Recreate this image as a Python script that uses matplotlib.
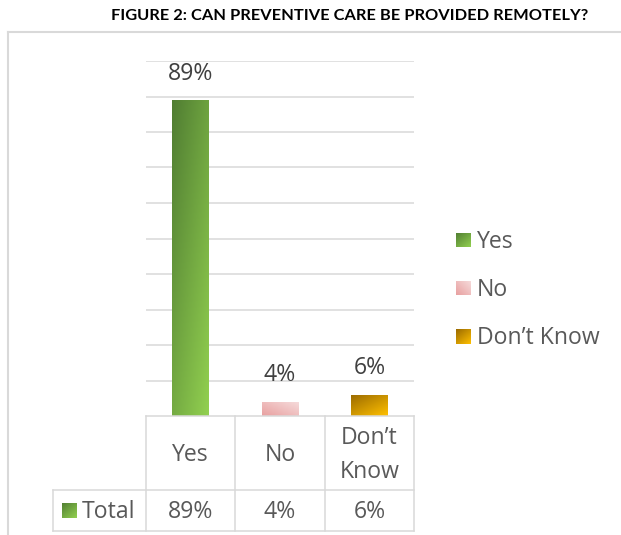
import numpy as np
import matplotlib
matplotlib.use("Agg")
import matplotlib.pyplot as plt
import matplotlib.transforms as mtransforms
from matplotlib.colors import LinearSegmentedColormap
from matplotlib.lines import Line2D

# survey answers
categories = ["Yes", "No", "Don\u2019t\nKnow"]
legend_names = ["Yes", "No", "Don\u2019t Know"]
shares = [0.89, 0.04, 0.06]
value_labels = ["89%", "4%", "6%"]
row_label = "Total"
title = "FIGURE 2: CAN PREVENTIVE CARE BE PROVIDED REMOTELY?"

# gradient end points (dark corner, light corner)
grads = [("#507D32", "#92D050"), ("#E8A0A0", "#F6DCDC"), ("#9A6A00", "#FFC000")]

W, H = 621, 535
GRID = "#D9D9D9"
TXT = "#595959"
FONT = "Open Sans"
FS = 16.6

plt.rcParams["font.family"] = [FONT, "DejaVu Sans"]

fig = plt.figure(figsize=(W / 100, H / 100), dpi=100)
fig.patch.set_facecolor("white")


def fx(x):
    return x / W


def fy(y):
    return 1 - y / H


ax = fig.add_axes([fx(146), fy(416), fx(414) - fx(146), fy(61) - fy(416)])
ax.set_xlim(-0.5, 2.5)
ax.set_ylim(0, 1.0)
ax.set_yticks(np.arange(0.1, 1.01, 0.1))
ax.yaxis.grid(True, color=GRID, lw=1.1)
ax.set_axisbelow(True)
for s in ax.spines.values():
    s.set_visible(False)
ax.tick_params(left=False, bottom=False, labelleft=False, labelbottom=False)


def gradient(kind, n=64):
    u = np.linspace(0, 1, n)
    uu, vv = np.meshgrid(u, u)  # vv: 0 at top row (imshow origin upper)
    if kind == 1:
        # pink: dark at bottom-left, light at top-right
        return 0.5 * uu + 0.5 * (1 - vv)
    return 0.45 * uu + 0.55 * vv


bars = ax.bar(range(len(shares)), shares, width=0.41, color="none", edgecolor="none")
for i, (b, v) in enumerate(zip(bars, shares)):
    cmap = LinearSegmentedColormap.from_list(f"g{i}", grads[i])
    x0 = b.get_x()
    im = ax.imshow(gradient(i), cmap=cmap, aspect="auto", origin="upper",
                   extent=[x0, x0 + b.get_width(), 0, v], zorder=2)
    im.set_clip_path(b)
    ax.annotate(value_labels[i], (b.get_x() + b.get_width() / 2, v),
                xytext=(0, 19), textcoords="offset points",
                ha="center", va="center", fontsize=FS, color="#404040")
ax.set_xlim(-0.5, 2.5)
ax.set_ylim(0, 1.0)

# data table under the plot area
bt = mtransforms.blended_transform_factory(ax.transData, fig.transFigure)
ft = fig.transFigure
y_top, y_mid, y_bot = fy(416), fy(490), fy(531)


def hline(x0, x1, y, tr):
    fig.add_artist(Line2D([x0, x1], [y, y], color=GRID, lw=1.1, transform=tr))


def vline(x, y0, y1, tr):
    fig.add_artist(Line2D([x, x], [y0, y1], color=GRID, lw=1.1, transform=tr))


hline(-0.5, 2.5, y_top, bt)
hline(fx(53), fx(414), y_mid, ft)
hline(fx(53), fx(414), y_bot, ft)
vline(fx(53), y_mid, y_bot, ft)
for xb in [-0.5, 0.5, 1.5, 2.5]:
    vline(xb, y_top, y_bot, bt)

for i, cat in enumerate(categories):
    t = fig.text(0, fy(455), cat, transform=bt, ha="center",
                 va="center", fontsize=FS, color=TXT, linespacing=1.5)
    t.set_x(i)
    t = fig.text(0, fy(512), value_labels[i], transform=bt,
                 ha="center", va="center", fontsize=FS, color=TXT)
    t.set_x(i)


def swatch(x, y, size, i):
    sax = fig.add_axes([fx(x), fy(y + size), fx(size), size / H])
    cmap = LinearSegmentedColormap.from_list(f"s{i}", grads[i])
    sax.imshow(gradient(i), cmap=cmap, aspect="auto")
    sax.axis("off")


swatch(62, 503, 15, 0)
fig.text(fx(82), fy(512), row_label, ha="left", va="center", fontsize=FS, color=TXT)

# legend on the right
for i, (name, yc) in enumerate(zip(legend_names, [240, 288, 336])):
    swatch(456, yc - 7.5, 15, i)
    fig.text(fx(477), fy(yc + 1.5), name, ha="left", va="center", fontsize=FS, color=TXT)

# outer chart frame (continues past the right and bottom edges)
fig.add_artist(Line2D([fx(8), fx(8)], [fy(32), 0], color=GRID, lw=1.5, transform=ft))
fig.add_artist(Line2D([fx(8), 1], [fy(32), fy(32)], color=GRID, lw=1.5, transform=ft))

fig.text(fx(350), fy(16), title, ha="center", va="center", fontsize=11.8,
         fontweight="bold", color="black", family=["Lato", "DejaVu Sans"])

fig.savefig("out.png", dpi=100)
